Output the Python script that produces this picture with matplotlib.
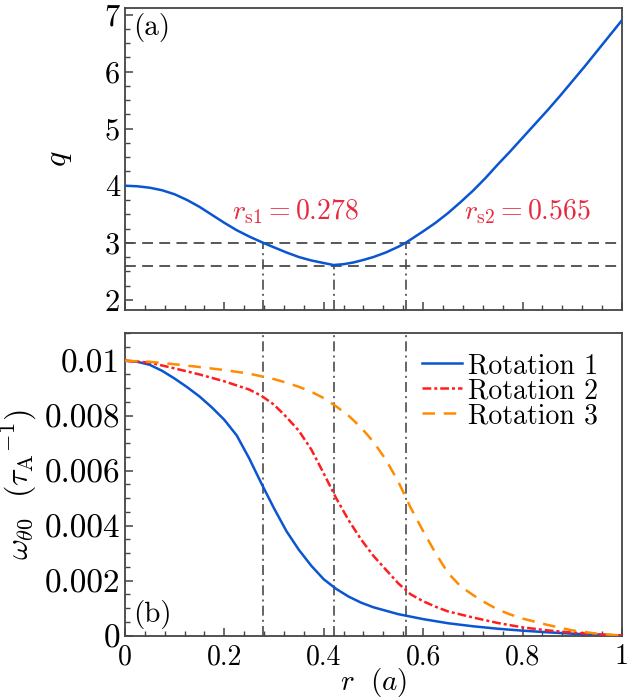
import matplotlib
matplotlib.use('Agg')
import matplotlib.pyplot as plt
from matplotlib.ticker import MultipleLocator, FixedLocator, FixedFormatter

plt.rcParams['font.family'] = 'serif'
plt.rcParams['font.serif'] = ['cmr10']
plt.rcParams['mathtext.fontset'] = 'cm'
plt.rcParams['axes.formatter.use_mathtext'] = True
plt.rcParams['axes.unicode_minus'] = False

# q profile, panel (a)
r_q = [0, 0.025, 0.05, 0.075, 0.1, 0.125, 0.15, 0.175, 0.2, 0.225, 0.25, 0.278, 0.3,
       0.325, 0.35, 0.375, 0.4, 0.42, 0.44, 0.46, 0.48, 0.5, 0.525, 0.55, 0.565, 0.6,
       0.625, 0.65, 0.675, 0.7, 0.725, 0.75, 0.775, 0.8, 0.825, 0.85, 0.875, 0.9,
       0.925, 0.95, 0.975, 1.0]
q_vals = [4.00, 3.99, 3.965, 3.92, 3.85, 3.75, 3.63, 3.49, 3.35, 3.22, 3.11, 3.00, 2.92,
          2.83, 2.75, 2.69, 2.645, 2.61, 2.625, 2.655, 2.70, 2.75, 2.83, 2.93, 3.00, 3.20,
          3.35, 3.52, 3.71, 3.91, 4.13, 4.37, 4.60, 4.84, 5.08, 5.32, 5.57, 5.83,
          6.09, 6.36, 6.63, 6.90]
q_levels = [3.0, 2.6]
r_marks = [0.278, 0.42, 0.565]
q_marks = [3.0, 2.6, 3.0]

# rotation profiles, panel (b)
r_rot1 = [0, 0.025, 0.05, 0.075, 0.1, 0.125, 0.15, 0.175, 0.2, 0.225, 0.25, 0.275, 0.3,
          0.325, 0.35, 0.375, 0.4, 0.425, 0.45, 0.475, 0.5, 0.55, 0.6, 0.65, 0.7, 0.75,
          0.8, 0.85, 0.9, 0.95, 1.0]
rot1 = [0.0100, 0.00996, 0.00985, 0.00963, 0.00935, 0.00904, 0.00870, 0.00830, 0.00785,
        0.00728, 0.00645, 0.00552, 0.00463, 0.00380, 0.00312, 0.00254, 0.00205, 0.00170,
        0.00142, 0.00120, 0.00103, 0.00078, 0.00060, 0.00045, 0.00034, 0.00025, 0.00018,
        0.00012, 0.00007, 0.00003, 0]

r_rot2 = [0, 0.05, 0.1, 0.15, 0.2, 0.25, 0.275, 0.3, 0.325, 0.35, 0.375, 0.4, 0.425, 0.45,
          0.475, 0.5, 0.525, 0.55, 0.575, 0.6, 0.625, 0.65, 0.7, 0.75, 0.8, 0.85, 0.9,
          0.95, 1.0]
rot2 = [0.0100, 0.00993, 0.00972, 0.00950, 0.00925, 0.00895, 0.00872, 0.00840, 0.00795,
        0.00745, 0.00677, 0.00590, 0.00500, 0.00420, 0.00350, 0.00290, 0.00240, 0.00190,
        0.00150, 0.00125, 0.00105, 0.00088, 0.00066, 0.00046, 0.00030, 0.00019, 0.00011,
        0.00005, 0]

r_rot3 = [0, 0.05, 0.1, 0.15, 0.2, 0.25, 0.3, 0.325, 0.35, 0.375, 0.4, 0.425, 0.45, 0.475,
          0.5, 0.525, 0.55, 0.575, 0.6, 0.625, 0.65, 0.675, 0.7, 0.725, 0.75, 0.775, 0.8,
          0.85, 0.9, 0.95, 1.0]
rot3 = [0.0100, 0.00996, 0.00987, 0.00977, 0.00966, 0.00953, 0.00933, 0.00920, 0.00905,
        0.00887, 0.00864, 0.00834, 0.00800, 0.00757, 0.00705, 0.00640, 0.00560, 0.00465,
        0.00380, 0.00300, 0.00228, 0.00180, 0.00148, 0.00120, 0.00095, 0.00077, 0.00062,
        0.00039, 0.00019, 0.00007, 0]

x_ticks = [0, 0.2, 0.4, 0.6, 0.8, 1.0]
x_labels = ['0', '0.2', '0.4', '0.6', '0.8', '1']
q_ticks = [2, 3, 4, 5, 6, 7]
q_labels = ['2', '3', '4', '5', '6', '7']
w_ticks = [0, 0.002, 0.004, 0.006, 0.008, 0.01]
w_labels = ['0', '0.002', '0.004', '0.006', '0.008', '0.01']

BLUE = '#0a55d2'
RED = '#ff1e1e'
ORANGE = '#ff8c00'
GRAY = '#4a4a4a'
ANNOT = '#e8283c'
FS = 20

fig = plt.figure(figsize=(6.34, 7.0), dpi=100)
ax1 = fig.add_axes([0.197, 0.557, 0.784, 0.432])
ax2 = fig.add_axes([0.197, 0.092, 0.784, 0.432])


def style_axes(ax):
    for sp in ax.spines.values():
        sp.set_color('#444444')
        sp.set_linewidth(1.3)
    ax.tick_params(which='both', direction='in', top=False, right=False,
                   colors='#444444', labelcolor='black', labelsize=FS)
    ax.tick_params(which='major', length=6, width=1.1)
    ax.tick_params(which='minor', length=3.5, width=1.0)


# panel (a)
ax1.plot(r_q, q_vals, color=BLUE, lw=1.8, zorder=3)
for lev in q_levels:
    ax1.axhline(lev, color=GRAY, lw=1.3, dashes=(6, 3.5), zorder=2)
ax1.set_xlim(0, 1)
ax1.set_ylim(1.82, 7.12)
ax1.vlines(r_marks, 1.82, q_marks, colors=GRAY, lw=1.2,
           linestyles=[(0, (6, 2.5, 1.2, 2.5))], zorder=2)
ax1.xaxis.set_major_locator(FixedLocator(x_ticks))
ax1.xaxis.set_minor_locator(MultipleLocator(0.04))
ax1.set_xticklabels([])
ax1.yaxis.set_major_locator(FixedLocator(q_ticks))
ax1.yaxis.set_major_formatter(FixedFormatter(q_labels))
ax1.yaxis.set_minor_locator(MultipleLocator(0.25))
ax1.set_ylabel(r'$q$', fontsize=FS + 3, labelpad=22)
ax1.text(0.215, 3.55, r'$r_{\rm s1}=0.278$', color=ANNOT, fontsize=FS, va='center', ha='left')
ax1.text(0.682, 3.55, r'$r_{\rm s2}=0.565$', color=ANNOT, fontsize=FS, va='center', ha='left')
ax1.text(0.017, 0.935, '(a)', transform=ax1.transAxes, fontsize=FS + 1, va='center', ha='left')
style_axes(ax1)
ax1.tick_params(axis='y', labelsize=FS + 2)

# panel (b)
for rm in r_marks:
    ax2.axvline(rm, color=GRAY, lw=1.2, dashes=(6, 2.5, 1.2, 2.5), zorder=2)
ax2.plot(r_rot1, rot1, color=BLUE, lw=1.8, label='Rotation 1', zorder=3)
ax2.plot(r_rot2, rot2, color=RED, lw=1.8, dashes=(3.5, 1.2, 1.2, 1.2), label='Rotation 2', zorder=3)
ax2.plot(r_rot3, rot3, color=ORANGE, lw=1.8, dashes=(5, 3.5), label='Rotation 3', zorder=3)
ax2.set_xlim(0, 1)
ax2.set_ylim(0, 0.011)
ax2.xaxis.set_major_locator(FixedLocator(x_ticks))
ax2.xaxis.set_major_formatter(FixedFormatter(x_labels))
ax2.xaxis.set_minor_locator(MultipleLocator(0.04))
ax2.yaxis.set_major_locator(FixedLocator(w_ticks))
ax2.yaxis.set_major_formatter(FixedFormatter(w_labels))
ax2.yaxis.set_minor_locator(MultipleLocator(0.0005))
ax2.set_xlabel(r'$r\ \ (a)$', fontsize=FS + 1, labelpad=-3)
ax2.set_ylabel(r'$\omega_{\theta0}\ \ (\tau_{\rm A}{}^{-1})$', fontsize=FS + 3, labelpad=4)
ax2.text(0.017, 0.07, '(b)', transform=ax2.transAxes, fontsize=FS + 1, va='center', ha='left')
ax2.legend(loc='upper right', frameon=False, fontsize=FS, handlelength=1.45,
           handletextpad=0.2, labelspacing=-0.05, borderaxespad=0.2,
           bbox_to_anchor=(0.985, 0.99))
style_axes(ax2)
ax2.tick_params(axis='y', labelsize=FS + 4)
ax2.tick_params(axis='x', pad=6)

fig.savefig('out.png', dpi=100)
